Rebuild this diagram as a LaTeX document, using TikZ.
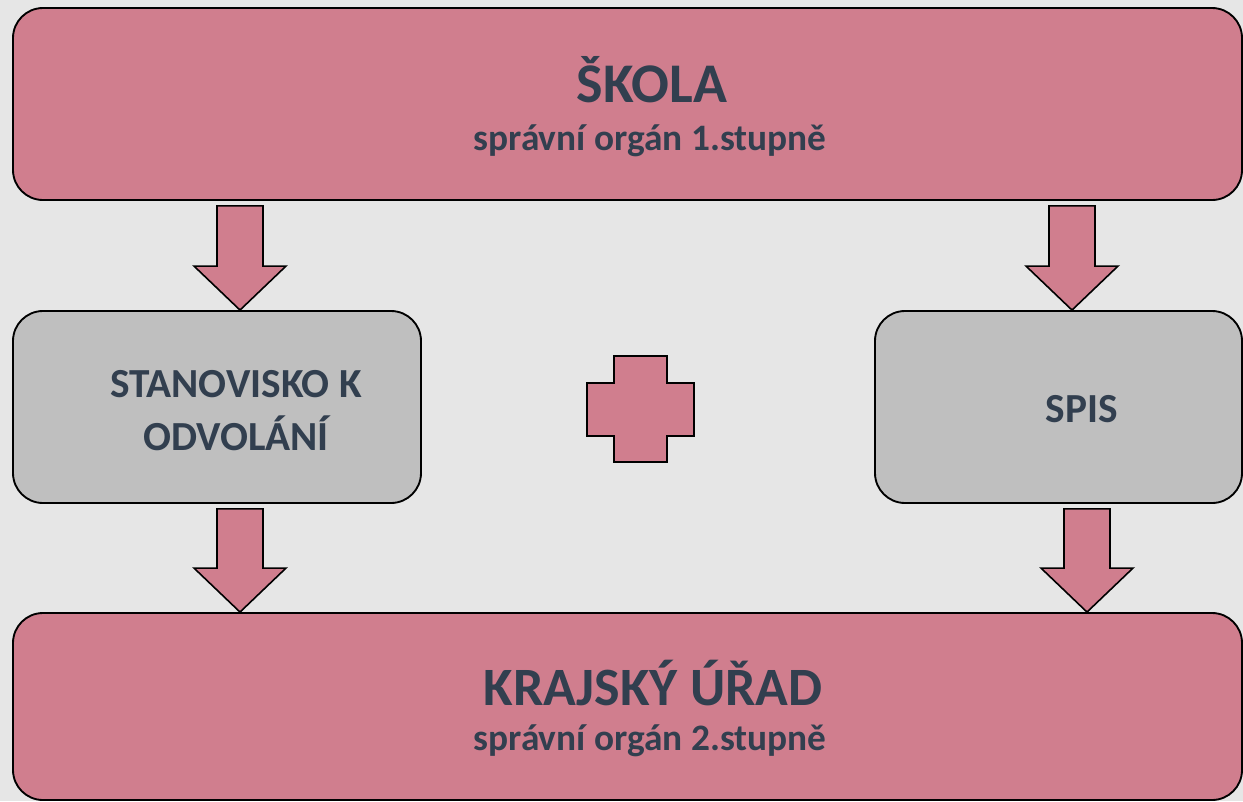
\documentclass[tikz,border=0pt]{standalone}
\usepackage{fontspec}
\setmainfont{Carlito}
\usetikzlibrary{calc}
\definecolor{bg}{HTML}{E6E6E6}
\definecolor{pinkf}{HTML}{D07E8E}
\definecolor{grayf}{HTML}{BFBFBF}
\definecolor{txt}{HTML}{323F4F}
\tikzset{
  pinkbox/.style={draw=black, line width=1.4pt, fill=pinkf, rounded corners=22.5pt, inner sep=0pt, minimum width=921.75pt},
  graybox/.style={draw=black, line width=1.4pt, fill=grayf, rounded corners=22.5pt, inner sep=0pt, minimum height=144pt},
  arr/.style={draw=black, line width=1.2pt, fill=pinkf, line join=miter},
  lbl/.style={text=txt, font=\bfseries, inner sep=0pt, anchor=base, align=center},
}
\newcommand\blkarrow[2]{%
  \draw[arr] let \p1=(#1), \p2=(#2) in
    (\x2-17.25pt,\y1) -- (\x2+17.25pt,\y1) -- (\x2+17.25pt,\y2+33pt) --
    (\x2+34.5pt,\y2+33pt) -- (\x2,\y2) -- (\x2-34.5pt,\y2+33pt) --
    (\x2-17.25pt,\y2+33pt) -- cycle;}
\begin{document}
\begin{tikzpicture}[x=0.75pt,y=-0.75pt]
\fill[bg] (0,0) rectangle (1243,801);
\useasboundingbox (0,0) rectangle (1243,801);
% boxes
\node[pinkbox, minimum height=144pt] (top) at (627.5,104) {};
\node[pinkbox, minimum height=140.25pt] (bot) at (627.5,706.5) {};
\node[graybox, minimum width=306pt] (lbox) at (217,407) {};
\node[graybox, minimum width=275.25pt] (rbox) at (1058.5,407) {};
% texts
\node[lbl, font=\bfseries\fontsize{42}{48}\selectfont] (t1) at (652,102) {ŠKOLA};
\node[lbl, font=\bfseries\fontsize{28}{33}\selectfont] (t2) at (650,150) {správní orgán 1.stupně};
\node[lbl, font=\bfseries\fontsize{40.5}{47}\selectfont] (b1) at (653,705) {KRAJSKÝ ÚŘAD};
\node[lbl, font=\bfseries\fontsize{28}{33}\selectfont] (b2) at (650,750) {správní orgán 2.stupně};
\node[lbl, font=\bfseries\fontsize{31}{37}\selectfont] (l1) at (236,397) {STANOVISKO K};
\node[lbl, font=\bfseries\fontsize{31}{37}\selectfont] (l2) at (236,450) {ODVOLÁNÍ};
\node[lbl, font=\bfseries\fontsize{31}{37}\selectfont] (r1) at (1082,422.7) {SPIS};
% arrow coordinates
\coordinate (xl) at (240,0);
\coordinate (xr) at (1072,0);
\coordinate (xlb) at (240,0);
\coordinate (xrb) at (1087,0);
\coordinate (a1s) at ($(top.south -| xl)+(0,5)$);
\coordinate (a1e) at (lbox.north -| xl);
\coordinate (a2s) at ($(top.south -| xr)+(0,5)$);
\coordinate (a2e) at (rbox.north -| xr);
\coordinate (a3s) at ($(lbox.south -| xlb)+(0,5)$);
\coordinate (a3e) at (bot.north -| xlb);
\coordinate (a4s) at ($(rbox.south -| xrb)+(0,5)$);
\coordinate (a4e) at (bot.north -| xrb);
\blkarrow{a1s}{a1e}
\blkarrow{a2s}{a2e}
\blkarrow{a3s}{a3e}
\blkarrow{a4s}{a4e}
% plus sign
\draw[arr] (614,356) -- (667,356) -- (667,383) -- (694,383) -- (694,436) -- (667,436) -- (667,462) -- (614,462) -- (614,436) -- (587,436) -- (587,383) -- (614,383) -- cycle;
\end{tikzpicture}
\end{document}
